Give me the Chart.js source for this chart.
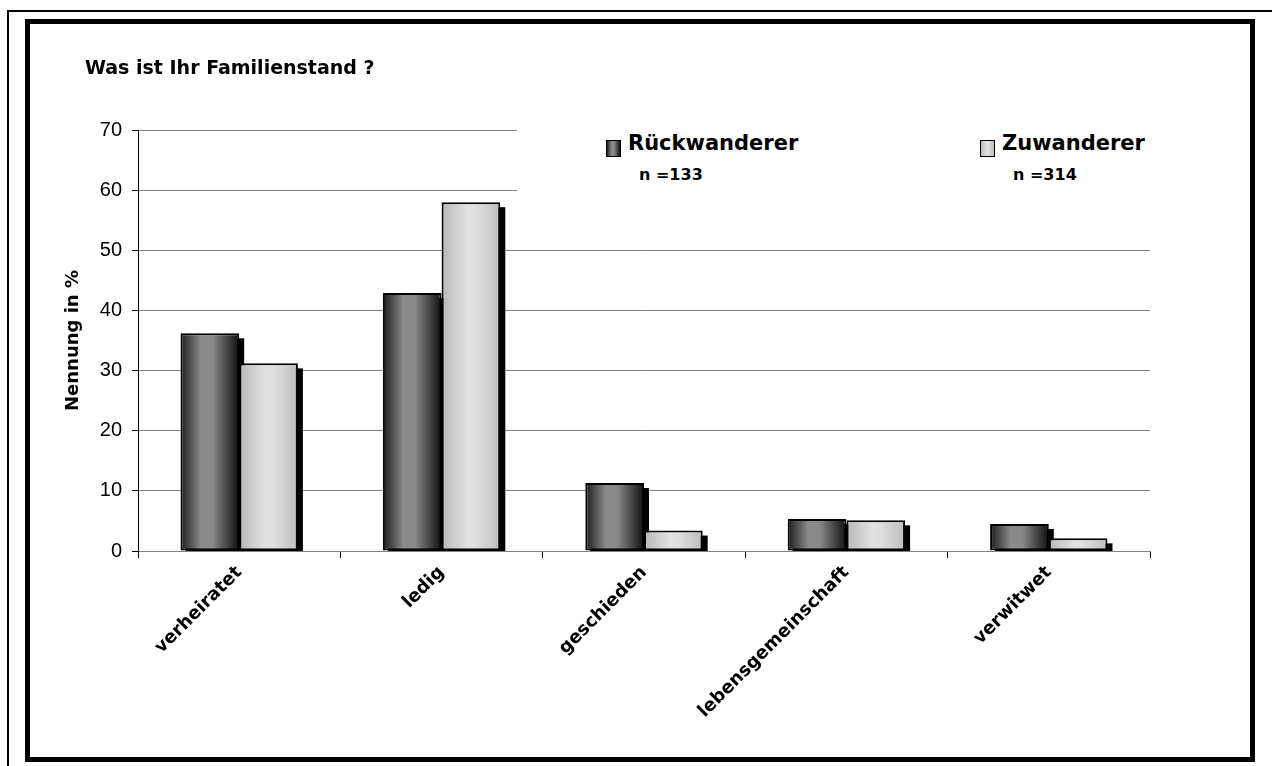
<!DOCTYPE html>
<html>
<head>
<meta charset="utf-8">
<script src="https://cdn.jsdelivr.net/npm/chart.js@4.4.1/dist/chart.umd.min.js"></script>
<style>
  body { margin: 0; background: #fff; font-family: "DejaVu Sans", sans-serif; }
  #wrap { position: relative; width: 1272px; height: 766px; overflow: hidden; }
  .outer { position: absolute; left: 7px; top: 10px; width: 1400px; height: 900px;
           border-left: 2px solid #000; border-top: 2px solid #000; }
  .box { position: absolute; left: 25px; top: 19px; width: 1230px; height: 743px;
         box-sizing: border-box; border: 5px solid #000; }
  canvas { position: absolute; left: 0; top: 0; }
  .title { position: absolute; left: 85px; top: 56px; font-weight: bold; font-size: 19px; white-space: nowrap; }
  .legend { position: absolute; left: 517px; top: 120px; width: 650px; height: 84px; background: #fff; }
  .item { position: absolute; top: 18px; }
  .sw { position: absolute; left: 0; top: 2px; width: 13px; height: 15px; border: 1.5px solid #000; }
  .name { position: absolute; left: 22px; top: -7px; font-weight: bold; font-size: 21px; white-space: nowrap; }
  .n { position: absolute; left: 33px; top: 27px; font-weight: bold; font-size: 16px; white-space: nowrap; }
</style>
</head>
<body>
<div id="wrap">
  <div class="outer"></div>
  <div class="box"></div>
  <canvas id="myChart" width="1272" height="766"></canvas>
  <div class="title" id="title"></div>
  <div class="legend" id="legend"></div>
</div>
<script>
const chartTitle = "Was ist Ihr Familienstand ?";
const categories = ["verheiratet", "ledig", "geschieden", "lebensgemeinschaft", "verwitwet"];
const seriesNames = ["Rückwanderer", "Zuwanderer"];
const seriesN = ["n =133", "n =314"];
const rueckwanderer = [36.2, 42.9, 11.3, 5.3, 4.5];
const zuwanderer = [31.2, 58.0, 3.4, 5.1, 2.1];
const yTicks = [0, 10, 20, 30, 40, 50, 60, 70];

// gradient stops for the "metal" look
const stops = [
  [[0, "#1c1c1c"], [0.35, "#8a8a8a"], [0.55, "#888"], [0.9, "#2a2a2a"], [1, "#111"]],
  [[0, "#b8b8b8"], [0.45, "#e2e2e2"], [0.6, "#dedede"], [1, "#bdbdbd"]],
];
const cssGrad = s => "linear-gradient(to right," + s.map(p => p[1] + " " + (p[0] * 100) + "%").join(",") + ")";

document.getElementById("title").textContent = chartTitle;
const legendLeft = [89, 463];
const legend = document.getElementById("legend");
seriesNames.forEach((name, i) => {
  const it = document.createElement("div");
  it.className = "item";
  it.style.left = legendLeft[i] + "px";
  it.innerHTML = '<div class="sw" style="background:' + cssGrad(stops[i]) + '"></div>' +
    '<div class="name">' + name + '</div><div class="n">' + seriesN[i] + '</div>';
  legend.appendChild(it);
});

// black drop shadow behind each bar + horizontal gradient fill
const barFx = {
  id: "barFx",
  beforeDatasetsDraw(chart) {
    const ctx = chart.ctx;
    const base = chart.scales.y.getPixelForValue(0);
    ctx.save();
    chart.data.datasets.forEach((ds, i) => {
      chart.getDatasetMeta(i).data.forEach(bar => {
        const l = bar.x - bar.width / 2;
        ctx.fillStyle = "#000";
        ctx.fillRect(l + 5, bar.y + 5, bar.width, Math.max(0, base - bar.y - 5));
        const g = ctx.createLinearGradient(l, 0, l + bar.width, 0);
        stops[i].forEach(p => g.addColorStop(p[0], p[1]));
        bar.options = Object.assign({}, bar.options, { backgroundColor: g });
      });
    });
    ctx.restore();
  }
};

const barStyle = {
  backgroundColor: "#888",
  borderColor: "#000",
  borderWidth: 2,
  borderSkipped: false,
  barPercentage: 1,
  categoryPercentage: 0.58,
};

const ctx = document.getElementById("myChart");
new Chart(ctx, {
  type: "bar",
  data: {
    labels: categories,
    datasets: [
      { label: seriesNames[0], data: rueckwanderer, ...barStyle },
      { label: seriesNames[1], data: zuwanderer, ...barStyle },
    ],
  },
  plugins: [barFx],
  options: {
    responsive: false,
    animation: false,
    devicePixelRatio: 1,
    layout: { padding: { left: 30, right: 122, top: 130, bottom: 15 } },
    plugins: {
      legend: { display: false },
      tooltip: { enabled: false },
    },
    scales: {
      x: {
        afterFit: s => { s.height = 200; },
        grid: { drawOnChartArea: false, tickLength: 7, tickColor: "#000" },
        border: { color: "#808080", width: 1 },
        ticks: {
          maxRotation: 45, minRotation: 45, padding: 4, color: "#000",
          font: { family: "DejaVu Sans", size: 18, weight: "bold" },
        },
      },
      y: {
        min: 0, max: 70,
        afterFit: s => { s.width = 108; },
        afterBuildTicks: s => { s.ticks = yTicks.map(v => ({ value: v })); },
        grid: { color: "#808080", tickColor: "#000", tickLength: 6 },
        border: { color: "#000", width: 1 },
        ticks: {
          padding: 10, color: "#000",
          font: { family: "Liberation Sans", size: 20 },
        },
        title: {
          display: true, text: "Nennung in %", color: "#000",
          padding: { top: 33, bottom: 0 },
          font: { family: "DejaVu Sans", size: 18, weight: "bold" },
        },
      },
    },
  },
});
</script>
</body>
</html>
